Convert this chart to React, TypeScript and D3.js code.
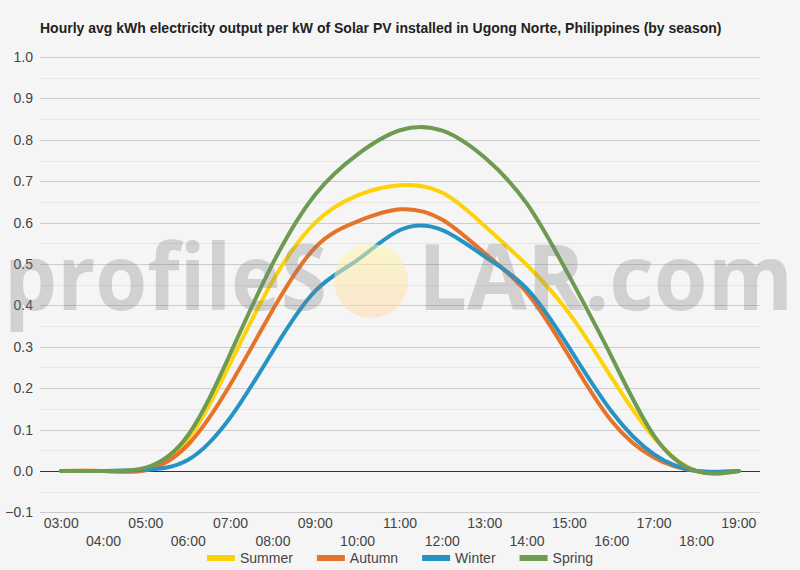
import { useEffect, useRef } from "react"
import * as d3 from "d3"

const hours = [
  "03:00", "04:00", "05:00", "06:00", "07:00", "08:00", "09:00", "10:00", "11:00",
  "12:00", "13:00", "14:00", "15:00", "16:00", "17:00", "18:00", "19:00",
]

const summer = [0, 0, 0.006, 0.078, 0.262, 0.46, 0.6, 0.666, 0.69, 0.672, 0.592, 0.497, 0.38, 0.225, 0.08, 0, 0]
const autumn = [0, 0, 0.002, 0.064, 0.21, 0.39, 0.54, 0.603, 0.632, 0.607, 0.526, 0.43, 0.276, 0.12, 0.032, 0, 0]
const winter = [0, 0, 0.003, 0.027, 0.13, 0.29, 0.435, 0.51, 0.582, 0.582, 0.518, 0.44, 0.297, 0.143, 0.04, 0, 0]
const spring = [0, 0, 0.008, 0.087, 0.285, 0.502, 0.668, 0.765, 0.823, 0.822, 0.757, 0.645, 0.47, 0.275, 0.085, 0, 0]

const seriesNames = ["Summer", "Autumn", "Winter", "Spring"]
const seriesColors = ["#fdd20a", "#e5742a", "#2594c4", "#6d9b52"]
const yTicks = [-0.1, 0, 0.1, 0.2, 0.3, 0.4, 0.5, 0.6, 0.7, 0.8, 0.9, 1.0]

const title = "Hourly avg kWh electricity output per kW of Solar PV installed in Ugong Norte, Philippines (by season)"

export default function App() {
  const svgRef = useRef<SVGSVGElement>(null)

  useEffect(() => {
    if (!svgRef.current) return
    const svg = d3.select(svgRef.current)
    svg.selectAll("*").remove()

    const width = 800
    const height = 570
    const font = "'Liberation Sans', Arial, sans-serif"
    const plot = { left: 40, right: 760, top: 57, bottom: 512.4 }

    svg.append("rect").attr("width", width).attr("height", height).attr("fill", "#f5f5f5")

    const x = d3.scalePoint<string>().domain(hours).range([plot.left, plot.right]).padding(0.5)
    const y = d3.scaleLinear().domain([-0.1, 1.0]).range([plot.bottom, plot.top])
    const crisp = (v: number) => Math.round(y(v)) + 0.5

    // gridlines: minor every 0.05, major every 0.1
    const minor = d3.range(-0.05, 1.0, 0.1)
    svg.append("g")
      .selectAll("line")
      .data(minor)
      .join("line")
      .attr("x1", plot.left).attr("x2", plot.right)
      .attr("y1", d => crisp(d)).attr("y2", d => crisp(d))
      .attr("stroke", "#e6e6e6").attr("stroke-width", 1)

    svg.append("g")
      .selectAll("line")
      .data(yTicks.filter(d => d !== 0))
      .join("line")
      .attr("x1", plot.left).attr("x2", plot.right)
      .attr("y1", d => crisp(d)).attr("y2", d => crisp(d))
      .attr("stroke", "#cccccc").attr("stroke-width", 1)

    // y labels
    svg.append("g")
      .selectAll("text")
      .data(yTicks)
      .join("text")
      .attr("x", 33)
      .attr("y", d => y(d) + 5)
      .attr("text-anchor", "end")
      .attr("font-family", font)
      .attr("font-size", 14)
      .attr("fill", "#444")
      .text(d => d3.format(".1f")(d))

    // x labels, alternating rows
    svg.append("g")
      .selectAll("text")
      .data(hours)
      .join("text")
      .attr("x", d => x(d) as number)
      .attr("y", (_d, i) => (i % 2 === 0 ? 528 : 546))
      .attr("text-anchor", "middle")
      .attr("font-family", font)
      .attr("font-size", 14)
      .attr("fill", "#444")
      .text(d => d)

    // zero line
    svg.append("line")
      .attr("x1", plot.left).attr("x2", plot.right)
      .attr("y1", crisp(0)).attr("y2", crisp(0))
      .attr("stroke", "#333").attr("stroke-width", 1)

    // lines
    const series = [summer, autumn, winter, spring]
    const line = d3.line<number>()
      .x((_d, i) => x(hours[i]) as number)
      .y(d => y(d))
      .curve(d3.curveNatural)

    series.forEach((values, i) => {
      svg.append("path")
        .datum(values)
        .attr("fill", "none")
        .attr("stroke", seriesColors[i])
        .attr("stroke-width", 4)
        .attr("stroke-linejoin", "round")
        .attr("stroke-linecap", "round")
        .attr("d", line)
    })

    // watermark
    const defs = svg.append("defs")
    const grad = defs.append("linearGradient").attr("id", "sun").attr("x1", 0).attr("y1", 0).attr("x2", 0).attr("y2", 1)
    grad.append("stop").attr("offset", "0%").attr("stop-color", "#fff8a8").attr("stop-opacity", 0.55)
    grad.append("stop").attr("offset", "100%").attr("stop-color", "#ffd8a8").attr("stop-opacity", 0.5)

    const wmFont = "'Open Sans', 'Liberation Sans', sans-serif"
    const wm = svg.append("g").attr("pointer-events", "none")
    const wmText = wm.append("g").attr("opacity", 0.3)
    wmText.append("text")
      .attr("x", 4).attr("y", 310)
      .attr("font-family", wmFont)
      .attr("font-size", 92)
      .attr("font-weight", 700)
      .attr("fill", "#808080")
      .attr("textLength", 323)
      .attr("lengthAdjust", "spacingAndGlyphs")
      .text("profileS")
    wmText.append("text")
      .attr("x", 418).attr("y", 310)
      .attr("font-family", wmFont)
      .attr("font-size", 92)
      .attr("font-weight", 700)
      .attr("fill", "#808080")
      .attr("textLength", 375)
      .attr("lengthAdjust", "spacingAndGlyphs")
      .text("LAR.com")
    wm.append("circle")
      .attr("cx", 371).attr("cy", 281).attr("r", 37)
      .attr("fill", "url(#sun)")

    // title
    svg.append("text")
      .attr("x", 40).attr("y", 33)
      .attr("font-family", font)
      .attr("font-size", 14)
      .attr("font-weight", "bold")
      .attr("fill", "#222")
      .text(title)

    // legend, centred
    const legend = svg.append("g")
    let cursor = 0
    seriesNames.forEach((name, i) => {
      const item = legend.append("g").attr("transform", `translate(${cursor},0)`)
      item.append("rect")
        .attr("x", 0).attr("y", 555).attr("width", 28).attr("height", 6)
        .attr("fill", seriesColors[i])
      const t = item.append("text")
        .attr("x", 33).attr("y", 563)
        .attr("font-family", font)
        .attr("font-size", 14)
        .attr("fill", "#444")
        .text(name)
      const w = (t.node() as SVGTextElement).getComputedTextLength()
      cursor += 33 + w + (i < seriesNames.length - 1 ? 24 : 0)
    })
    legend.attr("transform", `translate(${(width - cursor) / 2},0)`)
  }, [])

  return (
    <svg
      ref={svgRef}
      width={800}
      height={570}
      style={{ position: "absolute", left: 0, top: 0, display: "block" }}
    />
  )
}
